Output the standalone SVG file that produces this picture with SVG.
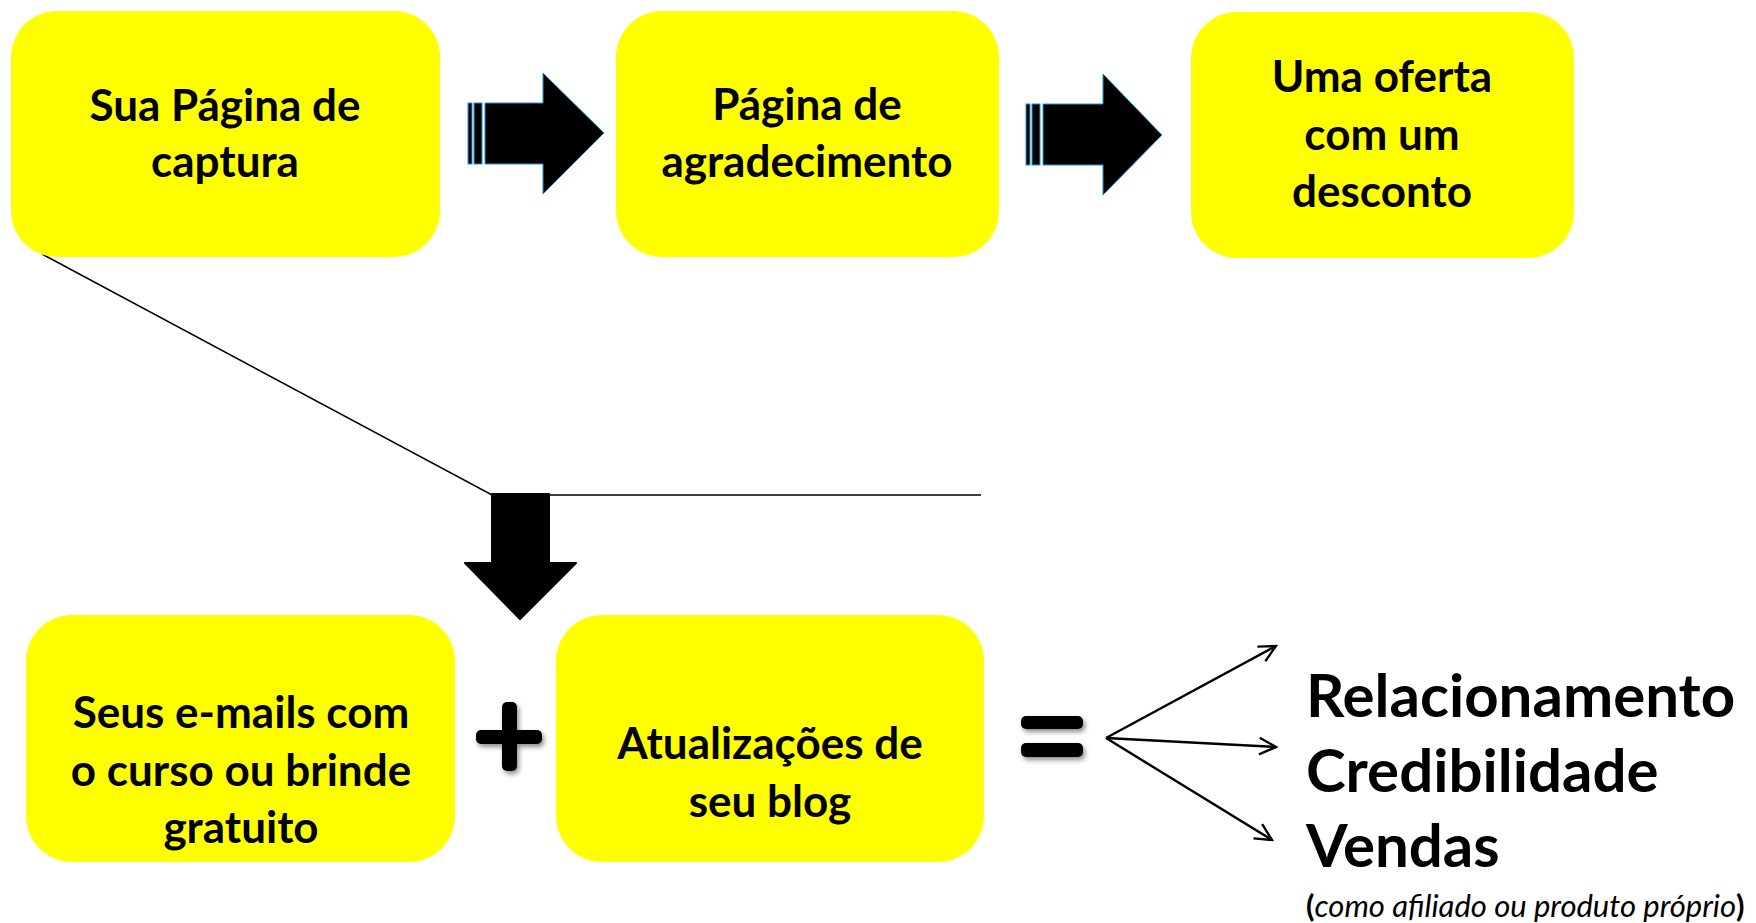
<svg xmlns="http://www.w3.org/2000/svg" width="1756" height="923" viewBox="0 0 1756 923">
<style>
.box{fill:#FFFF00;}
.t{font-family:Lato,"Liberation Sans",sans-serif;font-weight:700;font-size:44px;fill:#000;text-anchor:middle;}
.big{font-family:Lato,"Liberation Sans",sans-serif;font-weight:700;font-size:60px;fill:#000;}
.small{font-family:Lato,"Liberation Sans",sans-serif;font-size:31px;fill:#000;}
.conn{stroke:#000;stroke-width:1.6;fill:none;}
.thin{stroke:#000;stroke-width:2.4;fill:none;}
.blk{fill:#000;stroke:#1a9ad6;stroke-width:1;}
</style>
<defs>
<marker id="open" viewBox="0 0 12 12" refX="11" refY="6" markerUnits="userSpaceOnUse" markerWidth="20" markerHeight="20" orient="auto">
<path d="M1,1 L11,6 L1,11" fill="none" stroke="#000" stroke-width="1.4"/>
</marker>
<filter id="sh" x="-30%" y="-30%" width="160%" height="160%">
<feDropShadow dx="2" dy="3" stdDeviation="2.5" flood-color="#000" flood-opacity="0.45"/>
</filter>
</defs>
<rect width="1756" height="923" fill="#fff"/>
<g id="connectors">
<polyline class="conn" points="42,254 492,495 981,495"/>
<line class="thin" x1="1106" y1="738" x2="1276" y2="646" marker-end="url(#open)"/>
<line class="thin" x1="1106" y1="738" x2="1276" y2="747" marker-end="url(#open)"/>
<line class="thin" x1="1106" y1="738" x2="1272" y2="840" marker-end="url(#open)"/>
</g>
<g id="arrow1">
<rect class="blk" x="468" y="103" width="4" height="61"/>
<rect class="blk" x="474" y="103" width="8" height="61"/>
<polygon class="blk" points="485,103 543,103 543,73 604,133 543,194 543,164 485,164"/>
</g>
<g id="arrow2">
<rect class="blk" x="1026" y="104" width="4" height="61"/>
<rect class="blk" x="1032" y="104" width="8" height="61"/>
<polygon class="blk" points="1043,104 1103,104 1103,74 1162,135 1103,195 1103,165 1043,165"/>
</g>
<g id="arrow-down">
<polygon points="492,494 549,494 549,563 576,563 520,619 465,563 492,563" fill="#000" stroke="#000" stroke-width="2" stroke-linejoin="round"/>
</g>
<g id="n1">
<rect class="box" x="11" y="11" width="429" height="246" rx="46"/>
<text class="t" x="225" y="121">Sua Página de</text>
<text class="t" x="225" y="177">captura</text>
</g>
<g id="n2">
<rect class="box" x="616" y="11" width="383" height="246" rx="46"/>
<text class="t" x="807" y="120">Página de</text>
<text class="t" x="807" y="177">agradecimento</text>
</g>
<g id="n3">
<rect class="box" x="1191" y="12" width="383" height="246" rx="46"/>
<text class="t" x="1382" y="92">Uma oferta</text>
<text class="t" x="1382" y="150">com um</text>
<text class="t" x="1382" y="207">desconto</text>
</g>
<g id="n4">
<rect class="box" x="26" y="615" width="429" height="247" rx="46"/>
<text class="t" x="241" y="728">Seus e-mails com</text>
<text class="t" x="241" y="786">o curso ou brinde</text>
<text class="t" x="241" y="843">gratuito</text>
</g>
<g id="plus" filter="url(#sh)">
<rect x="476" y="730" width="66" height="14" rx="5" fill="#000"/>
<rect x="502" y="702" width="15" height="69" rx="5" fill="#000"/>
</g>
<g id="n5">
<rect class="box" x="556" y="615" width="428" height="247" rx="46"/>
<text class="t" x="770" y="759">Atualizações de</text>
<text class="t" x="770" y="817">seu blog</text>
</g>
<g id="equals" filter="url(#sh)">
<rect x="1021" y="716" width="62" height="13" rx="5" fill="#000"/>
<rect x="1021" y="743" width="62" height="14" rx="5" fill="#000"/>
</g>
<g id="results">
<text class="big" x="1306" y="717">Relacionamento</text>
<text class="big" x="1306" y="792">Credibilidade</text>
<text class="big" x="1306" y="867">Vendas</text>
<text class="small" x="1306" y="917"><tspan font-weight="700">(</tspan><tspan font-style="italic">como afiliado ou produto próprio</tspan><tspan font-weight="700">)</tspan></text>
</g>
</svg>
